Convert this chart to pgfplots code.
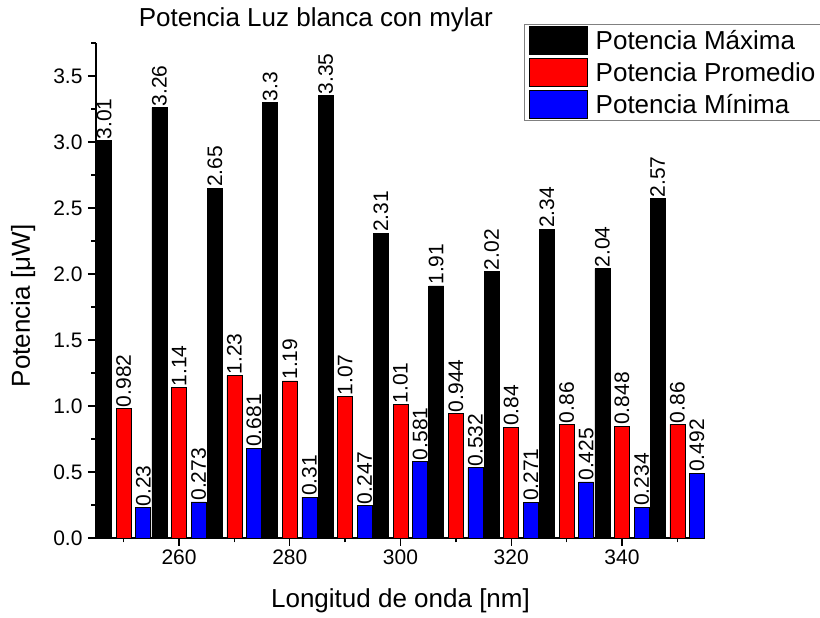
\documentclass[border=0pt]{standalone}
\usepackage{fontspec}
\setmainfont{Liberation Sans}
\usepackage{pgfplots}
\pgfplotsset{compat=1.18}
\begin{document}
\begin{tikzpicture}
\useasboundingbox (-96pt,-80pt) rectangle (724pt,538pt);
\begin{axis}[
  at={(0pt,0pt)}, anchor=south west,
  scale only axis, width=609pt, height=495pt,
  xmin=245, xmax=355, ymin=0, ymax=3.75,
  axis x line*=bottom, axis y line*=left,
  axis line style={line width=1.3pt},
  xtick={260,280,300,320,340},
  minor xtick={250,270,290,310,330,350},
  ytick={0,0.5,1,1.5,2,2.5,3,3.5},
  minor ytick={0.25,0.75,1.25,1.75,2.25,2.75,3.25,3.75},
  tick align=outside,
  major tick length=8pt, minor tick length=4.5pt,
  every tick/.style={black, line width=1.3pt},
  /pgf/number format/assume math mode=true,
  yticklabel style={/pgf/number format/fixed, /pgf/number format/fixed zerofill, /pgf/number format/precision=1, xshift=-2pt},
  xticklabel style={/pgf/number format/1000 sep={}},
  tick label style={font=\fontsize{21}{24}\selectfont},
  title={Potencia Luz blanca con mylar},
  title style={at={(axis description cs:0.361,1.0222)}, anchor=base, font=\fontsize{26}{30}\selectfont},
  xlabel={Longitud de onda [nm]},
  xlabel style={at={(axis description cs:0.5,-0.1414)}, anchor=base, font=\fontsize{26}{30}\selectfont},
  ylabel={Potencia [μW]},
  every axis y label/.style={at={(axis description cs:-0.1084,0.469)}, rotate=90, anchor=base, font=\fontsize{26}{30}\selectfont},
  nodes near coords={\pgfmathprintnumber[precision=3,assume math mode=true]{\pgfplotspointmeta}},
  every node near coord/.append style={rotate=90, anchor=west, inner sep=1pt, font=\fontsize{21}{24}\selectfont, black},
  legend cell align=left,
  legend image code/.code={\draw[#1] (0pt,-14.25pt) rectangle (58pt,14.25pt); \path[draw=none,fill=none] (0pt,-16pt) rectangle (64pt,16pt);},
  legend style={at={(axis description cs:0.7028,1.0384)}, anchor=north west,
    draw=gray, line width=0.8pt, inner xsep=5pt, inner ysep=0pt, row sep=0pt,
    nodes={inner xsep=2pt, inner ysep=0pt}, font=\fontsize{26}{30}\selectfont},
]
\addplot[ybar, bar width=15pt, bar shift=0pt, fill=black, draw=black, line width=0.6pt] coordinates {
 (246.46,3.01) (256.46,3.26) (266.46,2.65) (276.46,3.3) (286.46,3.35) (296.46,2.31)
 (306.46,1.91) (316.46,2.02) (326.46,2.34) (336.46,2.04) (346.46,2.57)};
\addlegendentry{Potencia Máxima}
\addplot[ybar, bar width=15pt, bar shift=0pt, fill=red, draw=black, line width=0.6pt] coordinates {
 (250,0.982) (260,1.14) (270,1.23) (280,1.19) (290,1.07) (300,1.01)
 (310,0.944) (320,0.84) (330,0.86) (340,0.848) (350,0.86)};
\addlegendentry{Potencia Promedio}
\addplot[ybar, bar width=15pt, bar shift=0pt, fill=blue, draw=black, line width=0.6pt] coordinates {
 (253.54,0.23) (263.54,0.273) (273.54,0.681) (283.54,0.31) (293.54,0.247) (303.54,0.581)
 (313.54,0.532) (323.54,0.271) (333.54,0.425) (343.54,0.234) (353.54,0.492)};
\addlegendentry{Potencia Mínima}
\end{axis}
\end{tikzpicture}
\end{document}
